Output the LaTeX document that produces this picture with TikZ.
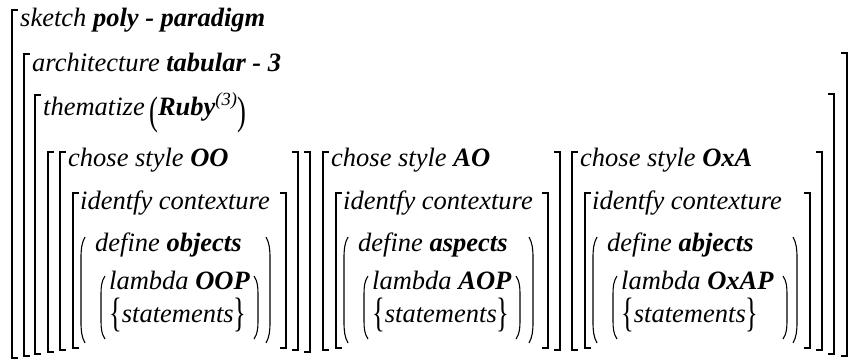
\documentclass[tikz,border=0pt]{standalone}
\usepackage{fontspec}
\setmainfont{LiberationSerif}[Extension=.ttf, UprightFont=*-Regular, BoldFont=*-Bold, ItalicFont=*-Italic, BoldItalicFont=*-BoldItalic]
\usepackage{graphicx}

\newcommand{\tallparen}[1]{{\upshape\raisebox{-0.37em}{\scalebox{1}[1.5]{#1}}}}
\newcommand{\tallbrace}[1]{{\upshape\raisebox{-0.17em}{\scalebox{1}[1.55]{#1}}}}

\begin{document}
\begin{tikzpicture}[
    x=1pt, y=-1pt,
    word/.style={anchor=base west, inner sep=0pt, font=\fontsize{26.5}{30}\selectfont\itshape},
    brk/.style={line width=1.3pt},
    par/.style={line width=1.1pt}
]
\useasboundingbox (0,0) rectangle (850,360);

% top levels
\node[word] (sketch) at (20,26) {sketch \textbf{poly - paradigm}};
\node[word] (arch) at (32,71) {architecture \textbf{tabular - 3}};
\node[word] (theme) at (43,115) {thematize\,\tallparen{(}\textbf{Ruby}\textsuperscript{(3)}\tallparen{)}};

\foreach \x/\t/\b in {12/10/358, 24/54/356, 35/95/354, 48/152/352}
    \draw[brk] (\x+6,\t) -| (\x,\b) -- (\x+6,\b);
\foreach \x/\t/\b in {847/53/356, 834/94/354, 310/152/352}
    \draw[brk] (\x-6,\t) -| (\x,\b) -- (\x-6,\b);

% the three styles
\foreach \x/\r/\ip/\op/\sty/\obj/\lam [count=\i] in {60/298/258/270/OO/objects/OOP, 323/560/520/533/AO/aspects/AOP, 572/822/787/797/OxA/abjects/OxAP} {
    \node[word] (style\i) at (\x+8,166) {chose style \textbf{\sty}};
    \node[word] (context\i) at (\x+20,209) {identfy contexture};
    \node[word] (define\i) at (\x+35,251) {define \textbf{\obj}};
    \node[word] (lambda\i) at (\x+49,289) {lambda \textbf{\lam}};
    \node[word] (stmt\i) at (\x+49,322) {\tallbrace{\{}statements\tallbrace{\}}};
    % brackets
    \draw[brk] (\x+6,152) -| (\x,350) -- (\x+6,350);
    \draw[brk] (\r-6,152) -| (\r,350) -- (\r-6,350);
    \draw[brk] (\x+19,193) -| (\x+13,348) -- (\x+19,348);
    \draw[brk] (\r-18,193) -| (\r-12,348) -- (\r-18,348);
    % parentheses
    \draw[par] (\x+25,237) .. controls (\x+21.5,243) and (\x+21,250) .. (\x+21,258) -- (\x+21,322) .. controls (\x+21,330) and (\x+21.5,337) .. (\x+25,343);
    \draw[par] (\op-4,237) .. controls (\op-0.5,243) and (\op,250) .. (\op,258) -- (\op,322) .. controls (\op,330) and (\op-0.5,337) .. (\op-4,343);
    \draw[par] (\x+45,276) .. controls (\x+41.5,281) and (\x+41,287) .. (\x+41,294) -- (\x+41,321) .. controls (\x+41,328) and (\x+41.5,334) .. (\x+45,339);
    \draw[par] (\ip-4,276) .. controls (\ip-0.5,281) and (\ip,287) .. (\ip,294) -- (\ip,321) .. controls (\ip,328) and (\ip-0.5,334) .. (\ip-4,339);
}
\end{tikzpicture}
\end{document}
